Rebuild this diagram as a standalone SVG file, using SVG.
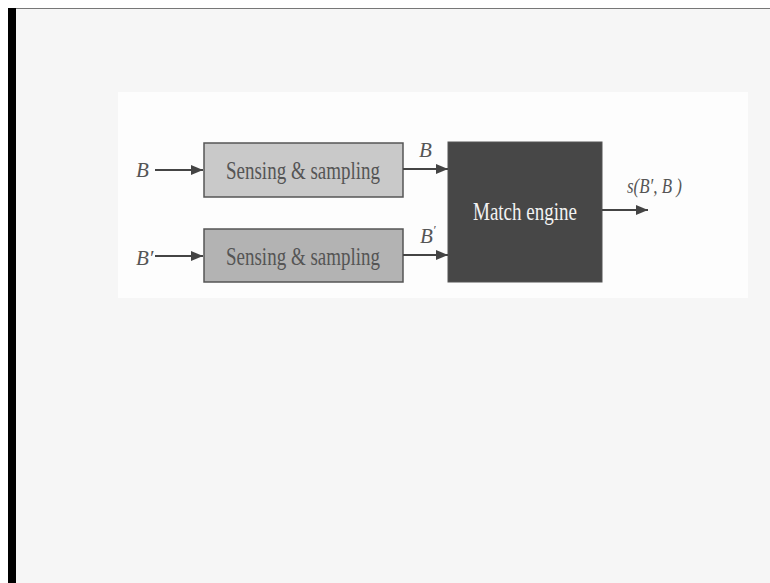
<svg xmlns="http://www.w3.org/2000/svg" width="770" height="583" viewBox="0 0 770 583">
<defs>
<marker id="ah" viewBox="0 0 12 10" refX="12" refY="5" markerWidth="12" markerHeight="10" markerUnits="userSpaceOnUse" orient="auto">
<path d="M0,0 L12,5 L0,10 z" fill="#444"/>
</marker>
<style>
.lbl{font-family:"Liberation Serif",serif;font-size:19px;fill:#555}
.var{font-family:"Liberation Serif",serif;font-style:italic;font-size:21px;fill:#555}
.con{stroke:#444;stroke-width:2;fill:none;marker-end:url(#ah)}
</style>
</defs>
<rect x="0" y="0" width="770" height="583" fill="#ffffff"/>
<rect x="8" y="8" width="762" height="575" fill="#f6f6f6"/>
<line x1="8" y1="8.5" x2="770" y2="8.5" stroke="#777" stroke-width="1"/>
<rect x="8" y="8" width="8" height="575" fill="#000"/>
<rect x="118" y="92" width="630" height="206" fill="#fdfdfd"/>
<g id="sense1">
<rect x="204" y="143" width="199" height="54" fill="#c9c9c9" stroke="#555" stroke-width="1.5"/>
<text class="lbl" transform="translate(303,179) scale(1,1.3)" x="0" y="0" text-anchor="middle" textLength="154" lengthAdjust="spacingAndGlyphs">Sensing &amp; sampling</text>
</g>
<g id="sense2">
<rect x="204" y="229" width="199" height="53" fill="#b3b3b3" stroke="#555" stroke-width="1.5"/>
<text class="lbl" transform="translate(303,265) scale(1,1.3)" x="0" y="0" text-anchor="middle" textLength="154" lengthAdjust="spacingAndGlyphs">Sensing &amp; sampling</text>
</g>
<g id="match">
<rect x="448" y="142" width="154" height="140" fill="#474747" stroke="#555" stroke-width="1"/>
<text x="525" y="220" text-anchor="middle" font-family="Liberation Serif, serif" font-size="25" fill="#f2f2f2" textLength="104" lengthAdjust="spacingAndGlyphs">Match engine</text>
</g>
<g id="connectors">
<line class="con" x1="155" y1="170" x2="203" y2="170"/>
<line class="con" x1="155" y1="256" x2="203" y2="256"/>
<line class="con" x1="403" y1="169" x2="448" y2="169"/>
<line class="con" x1="403" y1="255" x2="448" y2="255"/>
<line class="con" x1="602" y1="210" x2="648" y2="210"/>
</g>
<g id="labels">
<text class="var" x="136" y="177">B</text>
<text class="var" x="136" y="265">B′</text>
<text class="var" x="419" y="157">B</text>
<text class="var" x="420" y="243">B<tspan font-size="13" dy="-9">′</tspan></text>
<text class="var" x="627" y="193" font-size="22" textLength="55" lengthAdjust="spacingAndGlyphs">s(B′, B )</text>
</g>
</svg>
